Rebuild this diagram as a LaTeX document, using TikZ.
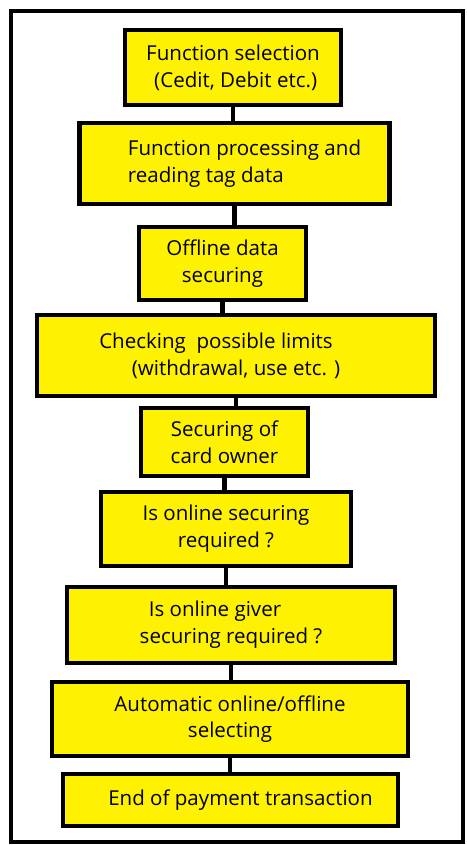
\documentclass[tikz,border=0pt]{standalone}
\usepackage{fontspec}
\setmainfont{Open Sans}
\definecolor{cardyellow}{RGB}{255,242,0}

\begin{document}
\begin{tikzpicture}[x=0.025cm, y=-0.025cm,
    stage/.style={draw, fill=cardyellow, line width=3.4pt, align=center, inner sep=0pt,
        font=\fontsize{14.6}{19}\selectfont},
    link/.style={line width=3.2pt}]
    \useasboundingbox (0,0) rectangle (466,845);

    % Outer frame
    \draw[line width=2.8pt] (11,11) rectangle (463,842);

    % Processing stages
    \node[stage, minimum width=5.4cm, minimum height=1.875cm] (b1) at (233,67.5)
        {Function selection\\\ (Cedit, Debit etc.)};
    \node[stage, minimum width=7.75cm, minimum height=2.025cm, align=left] (b2) at (234.5,163.5)
        {\hspace*{0.5cm}Function processing and\\\hspace*{0.5cm}reading tag data\hspace*{-0.5cm}};
    \node[stage, minimum width=4.175cm, minimum height=1.825cm] (b3) at (222.5,263.5)
        {Offline data\\securing};
    \node[stage, minimum width=9.95cm, minimum height=2.025cm] (b4) at (236,355.5)
        {Checking\ \ possible limits\hspace*{1cm}\\(withdrawal, use etc. )};
    \node[stage, minimum width=4.175cm, minimum height=1.7cm] (b5) at (224.5,442)
        {Securing of\\card owner};
    \node[stage, minimum width=6.25cm, minimum height=1.85cm] (b6) at (226,529)
        {Is online securing\\required ?};
    \node[stage, minimum width=8.2cm, minimum height=1.9cm] (b7) at (231,625)
        {Is online giver\hspace*{0.8cm}\\securing required ?};
    \node[stage, minimum width=8.9cm, minimum height=1.85cm] (b8) at (230,719)
        {Automatic online/offline\\selecting};
    \node[stage, minimum width=8.375cm, minimum height=1.3cm] (b9) at (230.5,800)
        {\hspace*{0.5cm}End of payment transaction};

    % Links between stages
    \foreach \a/\b in {b1/b2, b2/b3, b3/b4, b4/b5, b5/b6, b6/b7, b7/b8, b8/b9}
        \draw[link] (\a.south) -- (\a.south |- \b.north);
\end{tikzpicture}
\end{document}
